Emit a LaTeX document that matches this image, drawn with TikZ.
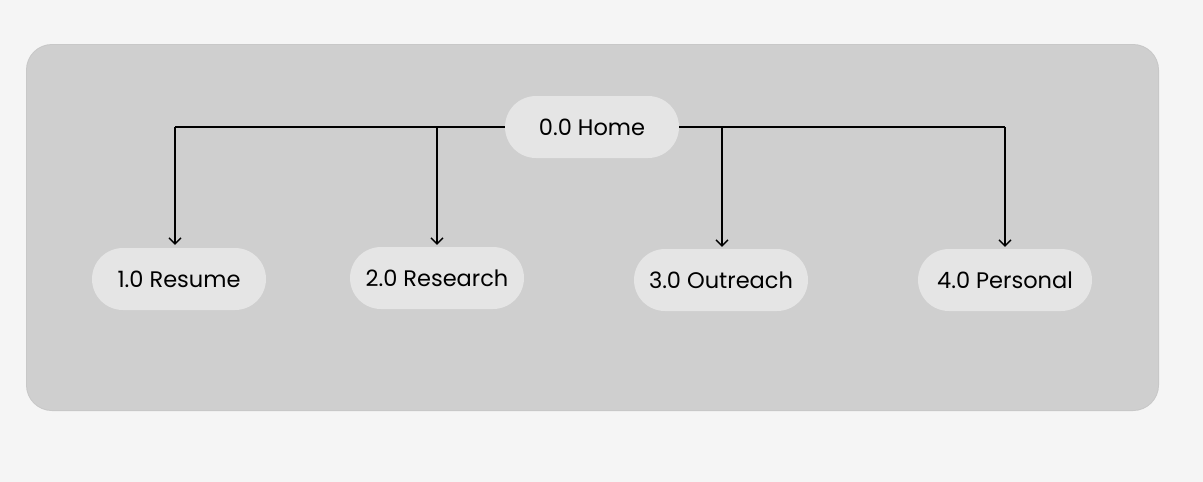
\documentclass[tikz,border=0pt]{standalone}
\usepackage{fontspec}
\setmainfont{Poppins}
\usetikzlibrary{arrows.meta}
\definecolor{pagebg}{HTML}{F5F5F5}
\definecolor{panel}{HTML}{CFCFCF}
\definecolor{paneledge}{HTML}{C8C8C8}
\definecolor{pill}{HTML}{E5E5E5}
\begin{document}
\begin{tikzpicture}[x=1pt,y=-1pt,
  pillnode/.style={fill=pill, rounded corners=31pt, minimum width=174pt, minimum height=62pt, inner sep=0pt, font=\fontsize{22.5}{26}\selectfont, text=black},
  link/.style={draw=black, line width=1.3pt},
  arr/.style={link, -{Straight Barb[length=6pt,width=12pt,line width=1.3pt]}}]
\useasboundingbox[fill=pagebg] (0,0) rectangle (1203,482);
\fill[paneledge, rounded corners=26pt] (26,44) rectangle (1159,411);
\fill[panel, rounded corners=25pt] (27,45) rectangle (1158,410);
\node[pillnode] (home) at (592,127) {0.0 Home};
\node[pillnode] (resume) at (179,279) {1.0 Resume};
\node[pillnode] (research) at (437,278) {2.0 Research};
\node[pillnode] (outreach) at (721,280) {3.0 Outreach};
\node[pillnode] (personal) at (1005,280) {4.0 Personal};
\coordinate (lt) at (175,127);
\coordinate (rt) at (1005,127);
\draw[link] (home.west) -- (lt);
\draw[link] (home.east) -- (rt);
\draw[arr] (lt) -- ([xshift=-4pt,yshift=3pt]resume.north);
\draw[arr] (home.west -| research) -- ([yshift=2pt]research.north);
\draw[arr] ([xshift=1pt]home.east -| outreach) -- ([xshift=1pt,yshift=2pt]outreach.north);
\draw[arr] (rt) -- ([yshift=2pt]personal.north);
\end{tikzpicture}
\end{document}
